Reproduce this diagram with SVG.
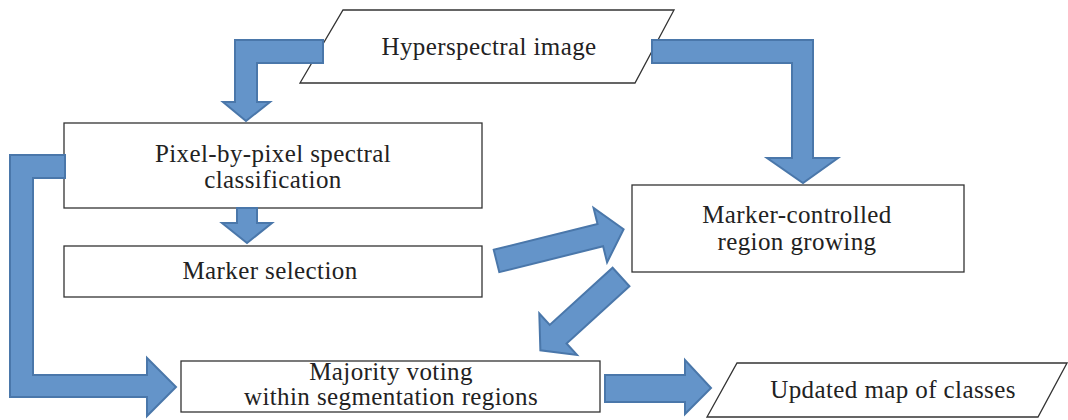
<svg xmlns="http://www.w3.org/2000/svg" width="1068" height="420" viewBox="0 0 1068 420">
<style>
.box{fill:#fff;stroke:#333;stroke-width:1.3}
.t{font-size:25px;fill:#222;text-anchor:middle;letter-spacing:0.4px}
.arr{fill:#6494c9;stroke:#4a77aa;stroke-width:2;stroke-linejoin:miter}
</style>
<rect width="1068" height="420" fill="#fff"/>
<g id="nodes">
<g id="hyperspectral">
<polygon class="box" points="343,10 674,10 635,83 300,83"/>
<text class="t" font-family="Liberation Serif, serif" x="489" y="55">Hyperspectral image</text>
</g>
<g id="pixel-classification">
<rect class="box" x="64" y="123" width="418" height="85"/>
<text class="t" font-family="Liberation Serif, serif" x="273" y="162">Pixel-by-pixel spectral</text>
<text class="t" font-family="Liberation Serif, serif" x="273" y="188">classification</text>
</g>
<g id="marker-selection">
<rect class="box" x="64" y="246" width="418" height="51"/>
<text class="t" font-family="Liberation Serif, serif" x="270" y="279">Marker selection</text>
</g>
<g id="region-growing">
<rect class="box" x="632" y="185" width="332" height="87"/>
<text class="t" font-family="Liberation Serif, serif" x="797" y="223">Marker-controlled</text>
<text class="t" font-family="Liberation Serif, serif" x="797" y="250">region growing</text>
</g>
<g id="majority-voting">
<rect class="box" x="181" y="361" width="419" height="51"/>
<text class="t" font-family="Liberation Serif, serif" font-size="24" x="391" y="380">Majority voting</text>
<text class="t" font-family="Liberation Serif, serif" font-size="24" x="391" y="405">within segmentation regions</text>
</g>
<g id="updated-map">
<polygon class="box" points="737,363 1067,363 1038,417 707,417"/>
<text class="t" font-family="Liberation Serif, serif" x="893" y="398">Updated map of classes</text>
</g>
</g>
<g id="connectors">
<polygon class="arr" points="323,40 235,40 235,102 223,102 246,121 270,102 257,102 257,63 323,63"/>
<polygon class="arr" points="652,40 813,40 813,158 838,158 803,183 767,158 792,158 792,63 652,63"/>
<polygon class="arr" points="65,155 10,155 10,397 147,397 147,416 176,387 147,358 147,375 33,375 33,178 65,178"/>
<polygon class="arr" points="237,208 237,223 222,223 247,243 272,223 257,223 257,208"/>
<polygon class="arr" points="605,375 685,375 685,360 711,388 685,414 685,402 605,402"/>
<polygon class="arr" transform="translate(496.5,261) rotate(-14)" points="0,-11.5 107,-11.5 107,-28 131,0 107,28 107,11.5 0,11.5"/>
<polygon class="arr" transform="translate(621,277) rotate(137.7)" points="0,-12.5 85,-12.5 85,-28 109,0 85,28 85,12.5 0,12.5"/>
</g>
</svg>
